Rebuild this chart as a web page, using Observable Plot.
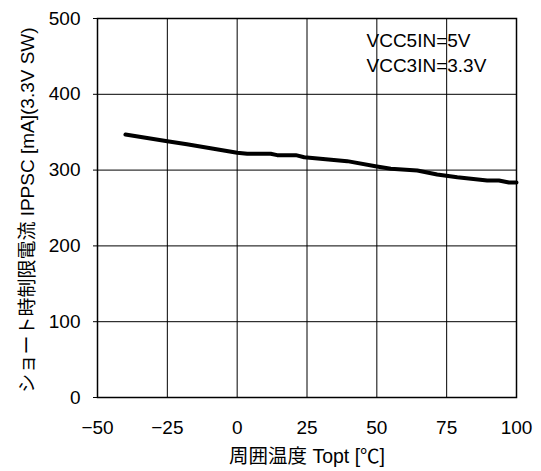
<!DOCTYPE html>
<html><head><meta charset="utf-8">
<script src="https://cdn.jsdelivr.net/npm/d3@7"></script>
<script src="https://cdn.jsdelivr.net/npm/@observablehq/plot@0.6"></script>
<style>body{margin:0;background:#fff}</style>
</head><body><div id="chart"></div>
<script>
const temps = [-40, -25, -18, 0, 3.6, 12, 14.3, 21, 24, 39.4, 50, 55, 64.5, 71.6, 78.8, 89.5, 93.7, 97.3, 100];
const currents = [347, 338, 334, 323, 321.5, 321.5, 319.7, 319.7, 317, 311.8, 304.7, 301.7, 299.5, 294.2, 290.6, 286.3, 286.3, 283.6, 283.6];
const xTicks = [-50, -25, 0, 25, 50, 75, 100];
const yTicks = [0, 100, 200, 300, 400, 500];
const notes = ["VCC5IN=5V", "VCC3IN=3.3V"];
const noteY = [470, 437];
const xLabel = "周囲温度 Topt [℃]";
const yLabel = "ショート時制限電流 IPPSC [mA](3.3V SW)";
const data = temps.map((t, i) => ({t, c: currents[i]}));
const font = "'Liberation Sans', 'Noto Sans CJK JP', sans-serif";
const fmt = d => d < 0 ? "\u2212" + Math.abs(d) : String(d);
const chart = Plot.plot({
  width: 541, height: 471,
  marginLeft: 97, marginRight: 25, marginTop: 18, marginBottom: 74,
  style: {fontFamily: font, fontSize: "19px", color: "#000", background: "#fff"},
  x: {domain: [-50, 100], label: null},
  y: {domain: [0, 500], label: null},
  marks: [
    Plot.gridX(xTicks, {stroke: "#000", strokeOpacity: 1, strokeWidth: 1}),
    Plot.gridY(yTicks, {stroke: "#000", strokeOpacity: 1, strokeWidth: 1}),
    Plot.frame({stroke: "#000", strokeWidth: 1.5}),
    Plot.axisX({ticks: xTicks, tickSize: 0, tickPadding: 23, fontSize: 19, tickFormat: fmt, label: null}),
    Plot.axisY({ticks: yTicks, tickSize: 4, tickPadding: 13, fontSize: 19, label: null}),
    Plot.line(data, {x: "t", y: "c", stroke: "#000", strokeWidth: 4, strokeLinejoin: "round", strokeLinecap: "round"}),
    Plot.text(notes, {x: () => 46.3, y: (d, i) => noteY[i], text: d => d, fontSize: 19, textAnchor: "start"}),
    Plot.text([xLabel], {frameAnchor: "bottom", dy: 65, fontSize: 19.5, text: d => d}),
    Plot.text([yLabel], {frameAnchor: "left", textAnchor: "middle", dx: -70, dy: 2, rotate: -90, fontSize: 19, text: d => d})
  ]
});
document.getElementById("chart").append(chart);
</script>
</body></html>
